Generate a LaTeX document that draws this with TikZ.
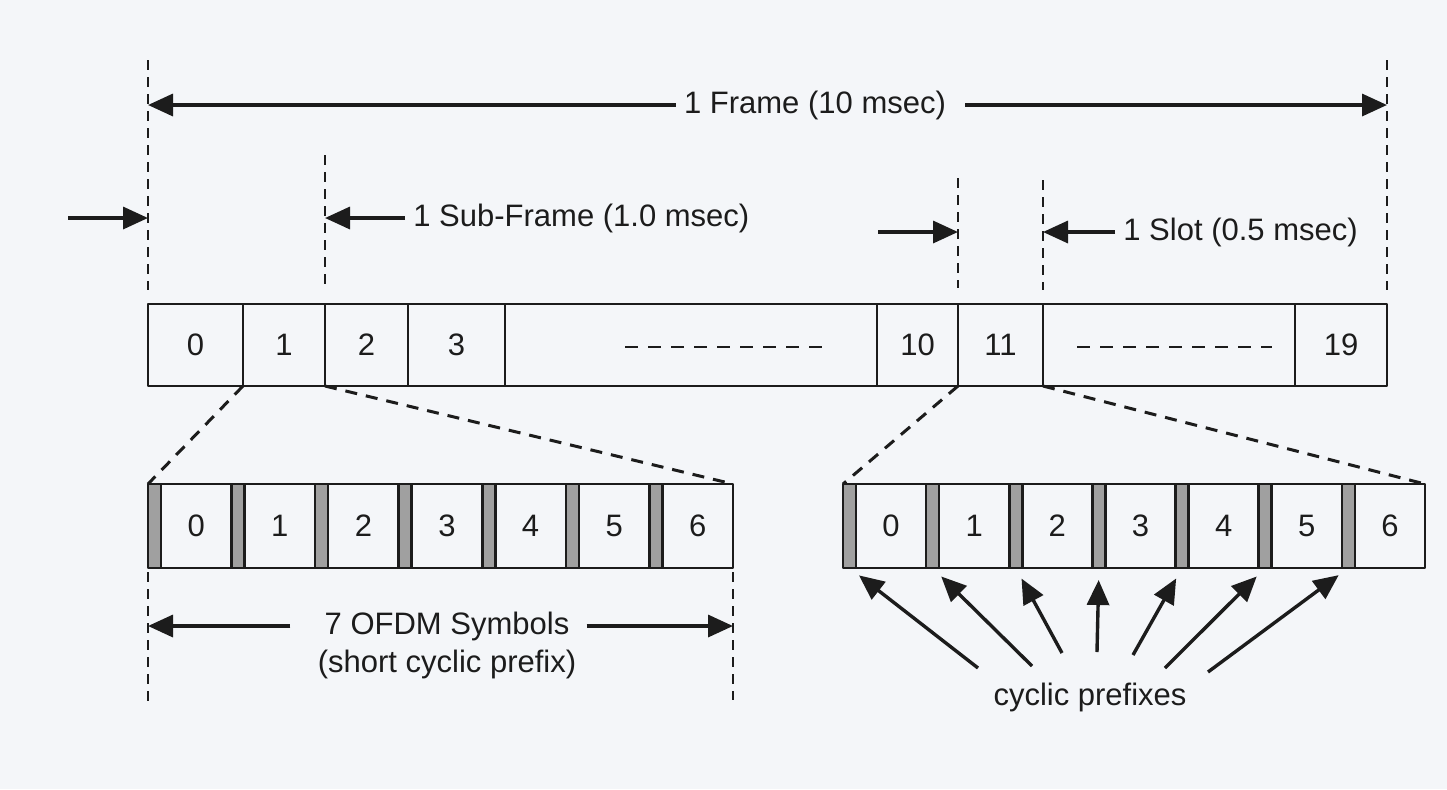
\documentclass[tikz,border=0pt]{standalone}
\usepackage{fontspec}
\setmainfont{Liberation Sans}
\usetikzlibrary{arrows.meta,calc}
\definecolor{ink}{RGB}{28,28,28}
\definecolor{paper}{RGB}{244,246,249}
\definecolor{prefixgray}{RGB}{160,160,160}
\begin{document}
\begin{tikzpicture}[x=0.5pt,y=-0.5pt,line join=round,
  >={Triangle[length=12.5pt,width=11pt]},
  every node/.style={font=\fontsize{15.5pt}{19pt}\selectfont,text=ink,inner sep=4pt},
  cell/.style={draw=ink,line width=1.3pt,inner sep=0pt,outer sep=0pt,minimum height=41pt},
  cpstrip/.style={cell,fill=prefixgray,minimum width=6.5pt,minimum height=42pt},
  dimline/.style={draw=ink,line width=1.2pt,dash pattern=on 5pt off 3.5pt},
  zoomline/.style={draw=ink,line width=1.5pt,dash pattern=on 6pt off 4.5pt},
  gapline/.style={draw=ink,line width=1.4pt,dash pattern=on 6.5pt off 5pt},
  dimarrow/.style={draw=ink,line width=1.7pt,->}]
  \fill[paper] (0,0) rectangle (1447,789);
  \useasboundingbox (0,0) rectangle (1447,789);
  % frame of 20 slots
  \foreach \a/\b/\t [count=\i from 0] in {148/243/0,243/325/1,325/408/2,408/505/3,505/877/{},877/958/10,958/1043/11,1043/1295/{},1295/1387/19}
    \node[cell,minimum width={(\b-\a)*0.5pt}] (c\i) at ({(\a+\b)/2},345) {\t};
  \draw[gapline] (625,347) -- (828,347);
  \draw[gapline] (1077,347) -- (1272,347);
  % slots with 7 OFDM symbols each
  \foreach \k in {0,...,6} {
    \node[cpstrip,anchor=west] (lp\k) at ({148+83.57*\k},526) {};
    \node[cell,minimum height=42pt,minimum width={(83.57-13)*0.5pt},anchor=west] (ls\k) at (lp\k.east) {\k};
    \node[cpstrip,anchor=west] (rp\k) at ({843+83.14*\k},526) {};
    \node[cell,minimum height=42pt,minimum width={(83.14-13)*0.5pt},anchor=west] (rs\k) at (rp\k.east) {\k};
  }
  \draw[zoomline] (c1.south west) -- (lp0.north west);
  \draw[zoomline] (c1.south east) -- (ls6.north east);
  \draw[zoomline] (c6.south west) -- (rp0.north west);
  \draw[zoomline] (c6.south east) -- (rs6.north east);
  % dimension lines
  \coordinate (fl1) at (148,60);  \coordinate (fl2) at (148,290);
  \coordinate (fr1) at (1387,60); \coordinate (fr2) at (1387,290);
  \coordinate (sf1) at (325,155); \coordinate (sf2) at (325,290);
  \coordinate (sl1) at (958,178); \coordinate (sl2) at (958,288);
  \coordinate (sr1) at (1043,180); \coordinate (sr2) at (1043,290);
  \coordinate (ol1) at (148,572); \coordinate (ol2) at (148,705);
  \coordinate (or1) at (733,572); \coordinate (or2) at (733,700);
  \foreach \p in {fl,fr,sf,sl,sr,ol,or}
    \draw[dimline] (\p1) -- (\p2);
  \node (frame) at (815,105) {1 Frame (10 msec)};
  \draw[dimarrow] (frame.west) -- (frame.west -| fl1);
  \draw[dimarrow] ([xshift=5.5pt]frame.east) -- (frame.east -| fr1);
  \node[anchor=west] (subframe) at (405,218) {1 Sub-Frame (1.0 msec)};
  \coordinate (sfin) at (68,218);
  \draw[dimarrow] (sfin) -- (sfin -| fl1);
  \draw[dimarrow] (subframe.west) -- (subframe.west -| sf1);
  \node[anchor=west] (slot) at (1115,232) {1 Slot (0.5 msec)};
  \coordinate (slin) at (878,232);
  \draw[dimarrow] (slin) -- (slin -| sl1);
  \draw[dimarrow] (slot.west) -- (slot.west -| sr1);
  \node (ofdm) at (447,626) {7 OFDM Symbols};
  \node (ofdmsub) at (447,664) {(short cyclic prefix)};
  \draw[dimarrow] ([xshift=-13pt]ofdm.west) -- (ofdm.west -| ol1);
  \draw[dimarrow] ([xshift=4.5pt]ofdm.east) -- (ofdm.east -| or1);
  % cyclic prefixes
  \node (cp) at (1090,697) {cyclic prefixes};
  \foreach \k/\tx/\ty in {0/978/668,1/1032/666,2/1062/653,3/1097/652,4/1133/655,5/1165/668,6/1208/672} {
    \coordinate (t\k) at (\tx,\ty);
    \draw[dimarrow,shorten >=6pt] (t\k) -- (rp\k.south);
  }
\end{tikzpicture}
\end{document}
